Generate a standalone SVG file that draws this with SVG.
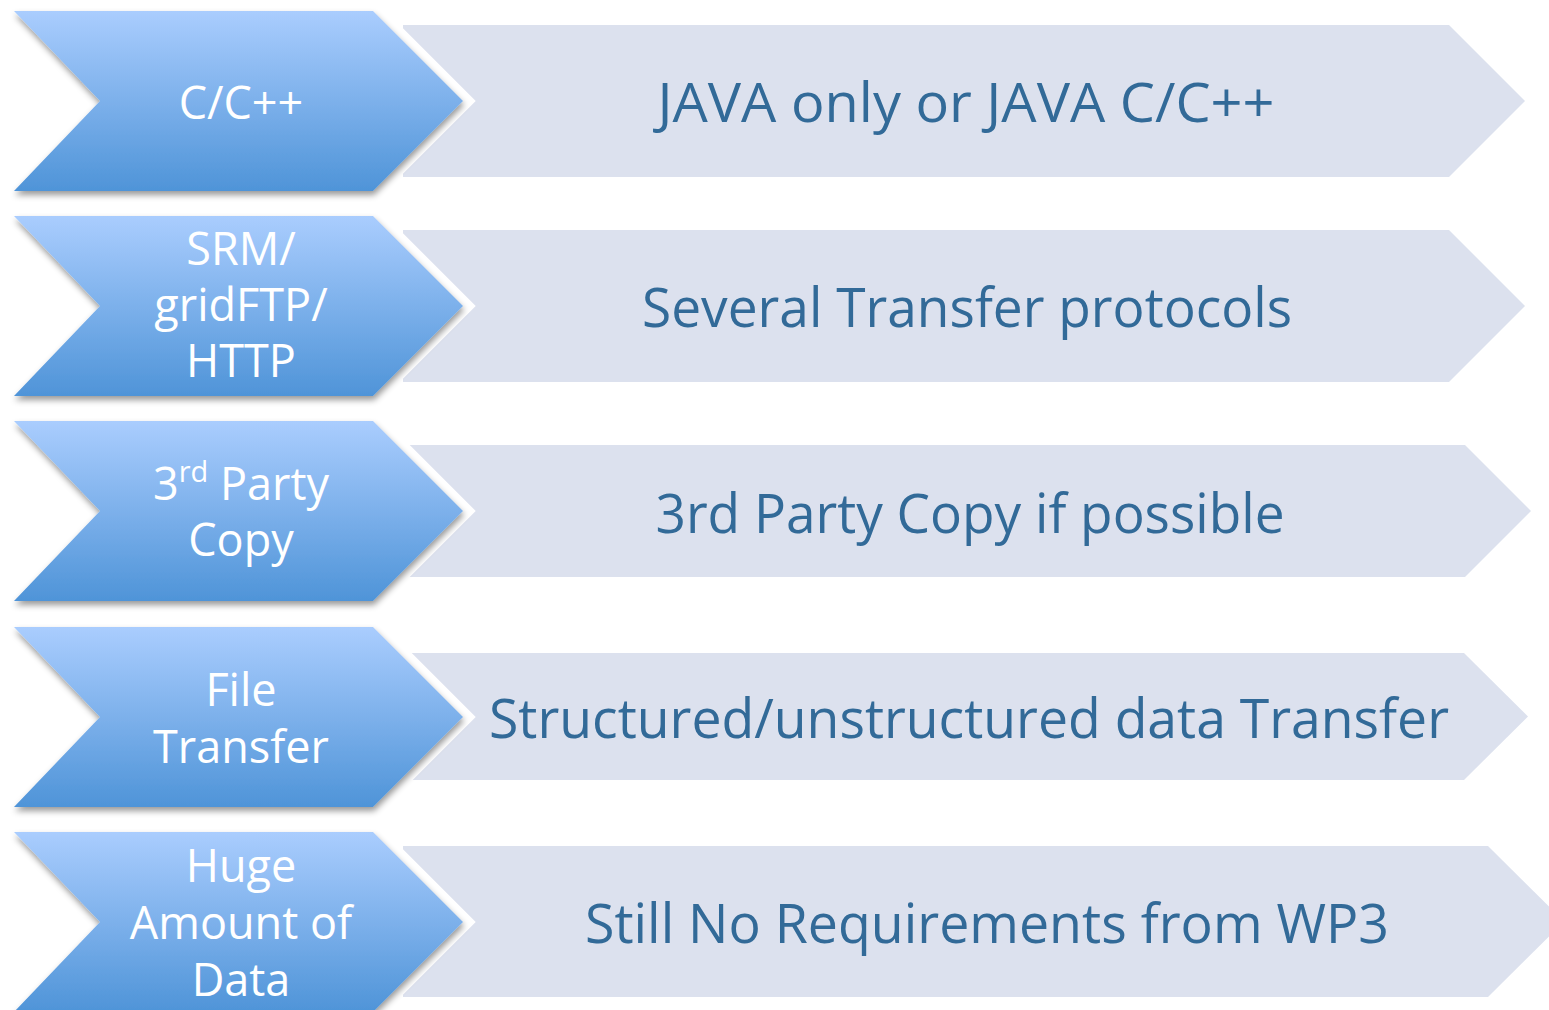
<svg xmlns="http://www.w3.org/2000/svg" xmlns:xlink="http://www.w3.org/1999/xlink" width="1549" height="1010" viewBox="0 0 1549 1010">
  <style>
    .lbl { font-family: "Open Sans", "Noto Sans", "DejaVu Sans", sans-serif; font-size: 45px; fill: #ffffff; text-anchor: middle; }
    .desc { font-family: "Open Sans", "Noto Sans", "DejaVu Sans", sans-serif; font-size: 55px; fill: #326a98; text-anchor: middle; }
    .band { fill: #dce1ee; }
    .halo { fill: #ffffff; stroke: #ffffff; stroke-width: 18; stroke-linejoin: miter; }
    .chev { fill: url(#blueGrad); filter: url(#shadow); }
  </style>
  <defs>
    <linearGradient id="blueGrad" x1="0" y1="0" x2="0" y2="1">
      <stop offset="0" stop-color="#aacdfe"/>
      <stop offset="1" stop-color="#4f94d8"/>
    </linearGradient>
    <filter id="shadow" x="-10%" y="-10%" width="125%" height="130%">
      <feDropShadow dx="1" dy="4" stdDeviation="3" flood-color="#000000" flood-opacity="0.4"/>
    </filter>
    <!-- chevron outline, top edge at y=0, 180 high -->
    <polygon id="chevShape" points="14,0 373,0 463,90 373,180 14,180 100,90"/>
  </defs>

  <rect width="1549" height="1010" fill="#ffffff"/>

  <!-- row 1 -->
  <g id="row1">
    <polygon class="band" points="403,25 1449,25 1525,101 1449,177 403,177"/>
    <g transform="translate(0,11)">
      <use xlink:href="#chevShape" class="halo"/>
      <use xlink:href="#chevShape" class="chev"/>
    </g>
    <text class="lbl" x="241" y="119">C/C++</text>
    <text class="desc" x="966" y="122" textLength="617" lengthAdjust="spacingAndGlyphs">JAVA only or JAVA C/C++</text>
  </g>

  <!-- row 2 -->
  <g id="row2">
    <polygon class="band" points="403,230 1449,230 1525,306 1449,382 403,382"/>
    <g transform="translate(0,216)">
      <use xlink:href="#chevShape" class="halo"/>
      <use xlink:href="#chevShape" class="chev"/>
    </g>
    <text class="lbl" x="241" y="265">SRM/</text>
    <text class="lbl" x="241" y="321">gridFTP/</text>
    <text class="lbl" x="241" y="377">HTTP</text>
    <text class="desc" x="967" y="327" textLength="650" lengthAdjust="spacingAndGlyphs">Several Transfer protocols</text>
  </g>

  <!-- row 3 -->
  <g id="row3">
    <polygon class="band" points="403,445 1465,445 1531,511 1465,577 403,577"/>
    <g transform="translate(0,421)">
      <use xlink:href="#chevShape" class="halo"/>
      <use xlink:href="#chevShape" class="chev"/>
    </g>
    <text class="lbl" x="241" y="500">3<tspan font-size="29" dy="-18">rd</tspan><tspan dy="18"> Party</tspan></text>
    <text class="lbl" x="241" y="556">Copy</text>
    <text class="desc" x="970" y="533" textLength="629" lengthAdjust="spacingAndGlyphs">3rd Party Copy if possible</text>
  </g>

  <!-- row 4 -->
  <g id="row4">
    <polygon class="band" points="403,653 1464,653 1528,716.5 1464,780 403,780"/>
    <g transform="translate(0,627)">
      <use xlink:href="#chevShape" class="halo"/>
      <use xlink:href="#chevShape" class="chev"/>
    </g>
    <text class="lbl" x="241" y="706">File</text>
    <text class="lbl" x="241" y="763">Transfer</text>
    <text class="desc" x="969" y="738" textLength="960" lengthAdjust="spacingAndGlyphs">Structured/unstructured data Transfer</text>
  </g>

  <!-- row 5 -->
  <g id="row5">
    <polygon class="band" points="403,846 1488,846 1564,921.5 1488,997 403,997"/>
    <g transform="translate(0,832)">
      <use xlink:href="#chevShape" class="halo"/>
      <use xlink:href="#chevShape" class="chev"/>
    </g>
    <text class="lbl" x="241" y="882">Huge</text>
    <text class="lbl" x="241" y="939">Amount of</text>
    <text class="lbl" x="241" y="996">Data</text>
    <text class="desc" x="987" y="943" textLength="804" lengthAdjust="spacingAndGlyphs">Still No Requirements from WP3</text>
  </g>

  <!-- no connectors in this chart -->
  <g id="connectors"/>
</svg>
